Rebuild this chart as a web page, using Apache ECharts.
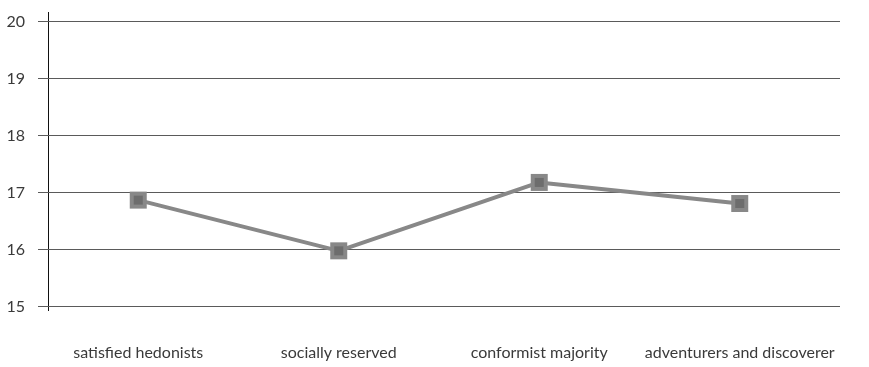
<!DOCTYPE html>
<html>
<head>
<meta charset="utf-8">
<script src="https://cdn.jsdelivr.net/npm/echarts@6/dist/echarts.min.js"></script>
<style>
  html, body { margin: 0; padding: 0; background: #fff; }
  #chart { width: 869px; height: 367px; }
</style>
</head>
<body>
<div id="chart"></div>
<script>
// Segments and their mean scores
const categories = ['satisfied hedonists', 'socially reserved', 'conformist majority', 'adventurers and discoverer'];
const scores = [16.87, 15.98, 17.18, 16.81];
const yTicks = [15, 16, 17, 18, 19, 20];

const chart = echarts.init(document.getElementById('chart'));
const gridLeft = 38, gridTop = 21.7, gridBottom = 60.3;

chart.setOption({
  animation: false,
  grid: { left: gridLeft, right: 29, top: gridTop, bottom: gridBottom },
  xAxis: {
    type: 'category',
    data: categories,
    boundaryGap: true,
    axisLine: { show: false },
    axisTick: { show: false },
    axisLabel: {
      margin: 38,
      color: '#3a3a3a',
      fontFamily: 'Lato',
      fontSize: 16,
      interval: 0
    }
  },
  yAxis: {
    type: 'value',
    min: yTicks[0],
    max: yTicks[yTicks.length - 1],
    interval: 1,
    axisLine: { show: false },
    axisTick: { show: false },
    splitLine: { lineStyle: { color: '#5a5a5a', width: 1 } },
    axisLabel: {
      margin: 13,
      color: '#3a3a3a',
      fontFamily: 'Lato',
      fontSize: 16,
      padding: [0, 0, 10, 0]
    }
  },
  graphic: [{
    type: 'line',
    shape: { x1: 48.5, y1: 12, x2: 48.5, y2: 311 },
    style: { stroke: '#111', lineWidth: 1 }
  }],
  series: [
    {
      type: 'line',
      data: scores,
      symbol: 'rect',
      symbolSize: 17,
      lineStyle: { color: '#888888', width: 4 },
      itemStyle: { color: '#888888' },
      z: 3
    },
    {
      // darker core of each square marker
      type: 'scatter',
      data: scores,
      symbol: 'rect',
      symbolSize: 9,
      itemStyle: { color: '#666666' },
      z: 4
    }
  ]
});
</script>
</body>
</html>
